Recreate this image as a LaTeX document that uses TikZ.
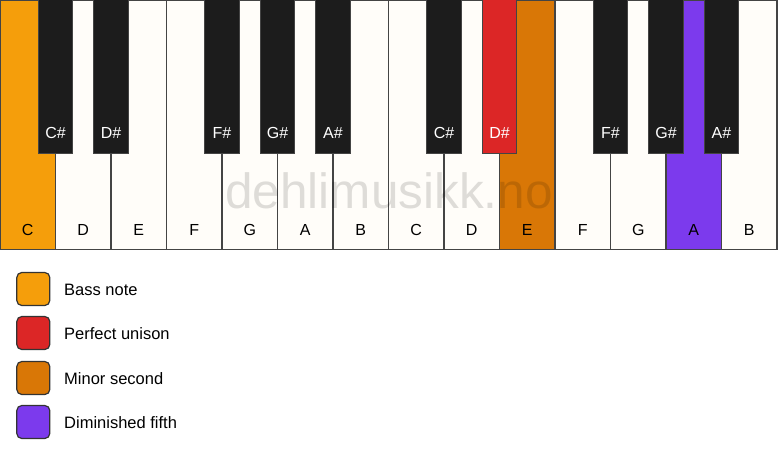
\documentclass[tikz,border=0pt]{standalone}
\usepackage{fontspec}
\setmainfont{Liberation Sans}
\definecolor{bassc}{HTML}{F59E0B}
\definecolor{unisc}{HTML}{DC2626}
\definecolor{minc}{HTML}{D97706}
\definecolor{dimc}{HTML}{7C3AED}
\definecolor{ivory}{HTML}{FFFDF9}
\definecolor{ebony}{HTML}{1C1C1C}
\definecolor{edge}{HTML}{444444}
\tikzset{
  whitekey/.style={draw=edge, line width=1.3pt, fill=ivory},
  blackkey/.style={draw=edge, line width=1pt, fill=ebony},
  wlabel/.style={font=\fontsize{16}{19}\selectfont, text=black, inner sep=0pt},
  blabel/.style={font=\fontsize{16}{19}\selectfont, text=white, inner sep=0pt},
  legbox/.style={draw=ebony!90, line width=1.2pt, rounded corners=5pt, minimum width=33pt, minimum height=33pt, inner sep=0pt},
  legtext/.style={font=\fontsize{16.5}{19}\selectfont, anchor=west, inner sep=0pt},
}
\begin{document}
\begin{tikzpicture}[x=1pt,y=-1pt]
\useasboundingbox (0,0) rectangle (778,461);
\fill[white] (0,0) rectangle (778,461);
\def\w{55.5}
% white keys
\foreach \i/\n/\c in {0/C/bassc,1/D/ivory,2/E/ivory,3/F/ivory,4/G/ivory,5/A/ivory,6/B/ivory,7/C/ivory,8/D/ivory,9/E/minc,10/F/ivory,11/G/ivory,12/A/dimc,13/B/ivory}{
  \path[whitekey, fill=\c] (\i*\w,0) rectangle ({(\i+1)*\w},249.5);
  \node[wlabel] (w\i) at ({(\i+0.5)*\w},230) {\n};
}
% watermark
\node[font=\fontsize{49.5}{54}\selectfont, text=black, text opacity=0.13, inner sep=0pt] (wm) at (389,191) {dehlimusikk.no};
% black keys
\foreach \b/\n/\c in {1/C\#/ebony,2/D\#/ebony,4/F\#/ebony,5/G\#/ebony,6/A\#/ebony,8/C\#/ebony,9/D\#/unisc,11/F\#/ebony,12/G\#/ebony,13/A\#/ebony}{
  \path[blackkey, fill=\c] ({\b*\w-17.2},-1) rectangle ({\b*\w+17.2},153);
  \node[blabel] (b\b) at ({\b*\w},133) {\n};
}
% legend
\node[legbox, fill=bassc] (l1) at (33.3,289) {};
\node[legtext] (t1) at (64,290) {Bass note};
\node[legbox, fill=unisc] (l2) at (33.3,333) {};
\node[legtext] (t2) at (64,334) {Perfect unison};
\node[legbox, fill=minc] (l3) at (33.3,378) {};
\node[legtext] (t3) at (64,379) {Minor second};
\node[legbox, fill=dimc] (l4) at (33.3,422) {};
\node[legtext] (t4) at (64,423) {Diminished fifth};
\end{tikzpicture}
\end{document}
